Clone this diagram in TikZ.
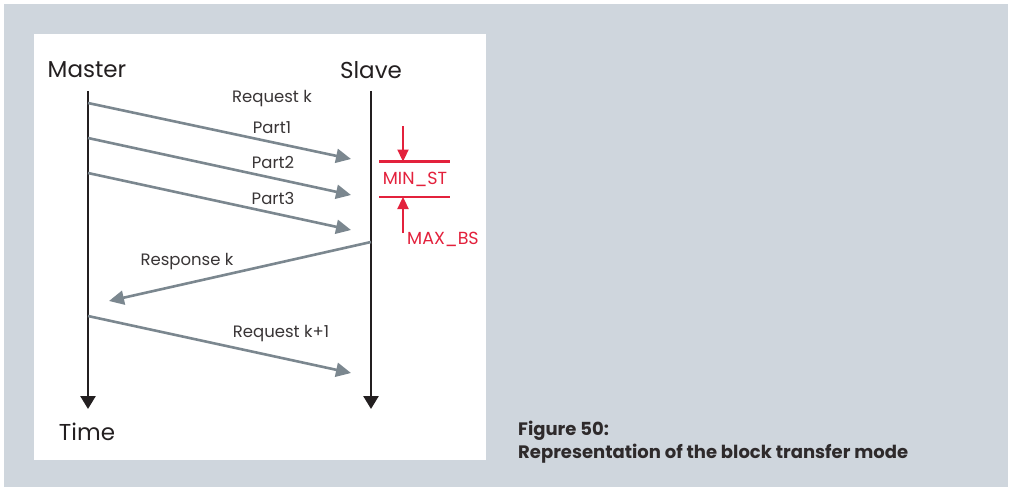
\documentclass[tikz,border=0pt]{standalone}
\usepackage{fontspec}
\setmainfont{Poppins}
\usetikzlibrary{arrows.meta}
\definecolor{bggray}{HTML}{CFD6DD}
\definecolor{msggray}{HTML}{7B878F}
\definecolor{redc}{HTML}{E3213C}
\definecolor{blk}{HTML}{231F20}
\tikzset{
  lifeline/.style={draw=blk, line width=2.6pt, -{Triangle[length=13pt,width=15pt]}},
  msg/.style={draw=msggray, line width=2.6pt, -{Triangle[length=15pt,width=14pt]}},
  redline/.style={draw=redc, line width=2.3pt},
  redarr/.style={draw=redc, line width=2.3pt, -{Triangle[length=12pt,width=11pt]}},
  head/.style={font=\fontsize{23}{26}\selectfont, text=blk, inner sep=0pt},
  lbl/.style={font=\fontsize{16.5}{19}\selectfont, text=blk!90, inner sep=0pt},
  redlbl/.style={font=\fontsize{17.5}{20}\selectfont, text=redc, inner sep=0pt},
  captext/.style={font=\bfseries\fontsize{18}{23}\selectfont, text=blk!95, inner sep=0pt, align=left},
}
\begin{document}
\begin{tikzpicture}[x=1pt,y=-1pt]
\useasboundingbox (0,0) rectangle (1010,487);
\fill[white] (0,0) rectangle (1010,487);
\fill[bggray] (4,4) rectangle (1008,487);
\fill[white] (34,34) rectangle (486,460);

% heads
\node[head] (master) at (87,70) {Master};
\node[head] (slave) at (371,70) {Slave};
\node[head] (time) at (87,432) {Time};

% lifelines
\coordinate (mtop) at (88,91);
\coordinate (mbot) at (88,409);
\coordinate (stop) at (371,91);
\coordinate (sbot) at (371,409);
\draw[lifeline] (mtop) -- (mbot);
\draw[lifeline] (stop) -- (sbot);

% messages
\coordinate (a1s) at (88,103);  \coordinate (a1e) at (351,159);
\coordinate (a2s) at (88,138);  \coordinate (a2e) at (351,195);
\coordinate (a3s) at (88,173);  \coordinate (a3e) at (351,230);
\coordinate (a4s) at (371,242); \coordinate (a4e) at (109,301);
\coordinate (a5s) at (88,316);  \coordinate (a5e) at (351,373);
\draw[msg] (a1s) -- (a1e);
\draw[msg] (a2s) -- (a2e);
\draw[msg] (a3s) -- (a3e);
\draw[msg] (a4s) -- (a4e);
\draw[msg] (a5s) -- (a5e);

\node[lbl] (reqk) at (272,99) {Request k};
\node[lbl] (p1) at (272,128) {Part1};
\node[lbl] (p2) at (273,163) {Part2};
\node[lbl] (p3) at (273,198) {Part3};
\node[lbl] (resp) at (187,262) {Response k};
\node[lbl] (reqk1) at (281,334) {Request k+1};

% red timing
\coordinate (l1a) at (379,161.5); \coordinate (l1b) at (450,161.5);
\coordinate (l2a) at (379,197);   \coordinate (l2b) at (450,197);
\draw[redline] (l1a) -- (l1b);
\draw[redline] (l2a) -- (l2b);
\coordinate (t1s) at (403,126); \coordinate (t1e) at (403,161.5);
\coordinate (t2s) at (403,233); \coordinate (t2e) at (403,197);
\draw[redarr] (t1s) -- (t1e);
\draw[redarr] (t2s) -- (t2e);
\node[redlbl] (minst) at (415,179) {MIN\_ST};
\node[redlbl, anchor=west] (maxbs) at (407,239) {MAX\_BS};

% caption
\node[captext, anchor=north west] (caption) at (518,421) {Figure 50:\\Representation of the block transfer mode};
\end{tikzpicture}
\end{document}
